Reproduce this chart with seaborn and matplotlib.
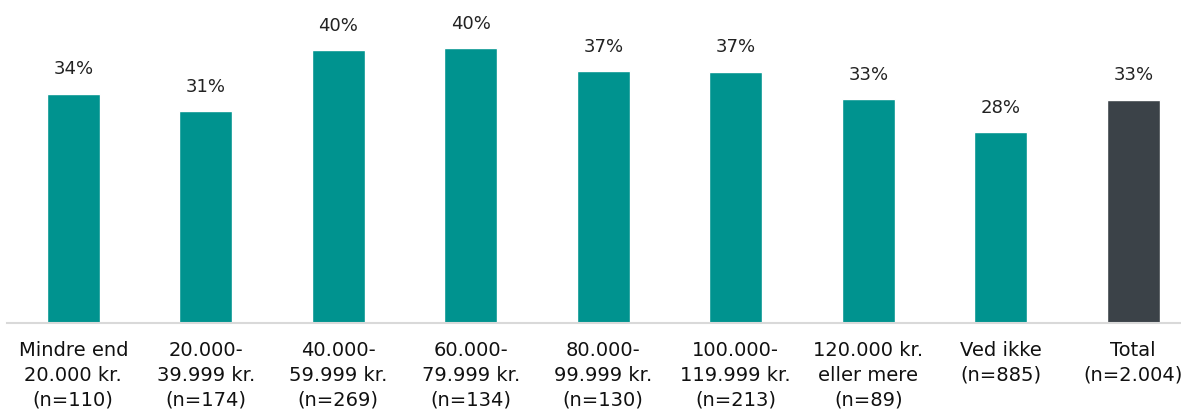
import numpy as np
import pandas as pd
import matplotlib.pyplot as plt
import seaborn as sns

# Data
categories = [
    "Mindre end\n20.000 kr.\n(n=110)",
    "20.000-\n39.999 kr.\n(n=174)",
    "40.000-\n59.999 kr.\n(n=269)",
    "60.000-\n79.999 kr.\n(n=134)",
    "80.000-\n99.999 kr.\n(n=130)",
    "100.000-\n119.999 kr.\n(n=213)",
    "120.000 kr.\neller mere\n(n=89)",
    "Ved ikke\n(n=885)",
    "Total\n(n=2.004)",
]
values = [33.6, 31.0, 40.0, 40.2, 36.9, 36.8, 32.8, 28.0, 32.7]
labels = ["34%", "31%", "40%", "40%", "37%", "37%", "33%", "28%", "33%"]

TEAL = "#00938F"
DARK = "#3B4248"
colors = [TEAL] * 8 + [DARK]

sns.set_style("white")
plt.rcParams["font.family"] = ["DejaVu Sans"]

df = pd.DataFrame({"cat": categories, "val": values})

fig = plt.figure(figsize=(11.81, 4.16), dpi=100)
ax = fig.add_axes([7 / 1181, 1 - 323 / 416, 1 - 7 / 1181, 323 / 416])

sns.barplot(data=df, x="cat", y="val", hue="cat", palette=colors,
            width=0.4, legend=False, ax=ax, saturation=1)

# percent labels over the bars
for i, (v, lab) in enumerate(zip(values, labels)):
    ax.annotate(lab, (i, v), xytext=(0, 11), textcoords="offset points",
                ha="center", va="bottom", fontsize=13, color="#222222")

ax.set_ylim(0, 47.3)
ax.set_xlim(-0.5, 8.36)
ax.set_xlabel("")
ax.set_ylabel("")
ax.set_yticks([])
ax.tick_params(axis="x", length=0, pad=13, labelsize=14, colors="#111111")
for t in ax.get_xticklabels():
    t.set_linespacing(1.38)
for s in ["top", "right", "left"]:
    ax.spines[s].set_visible(False)
ax.spines["bottom"].set_color("#D9D9D9")
ax.spines["bottom"].set_linewidth(1.5)

fig.savefig("out.png", dpi=100)
